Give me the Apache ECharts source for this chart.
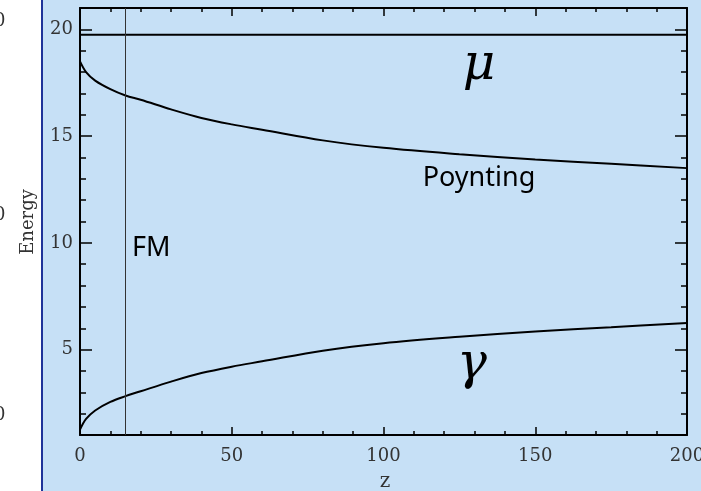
<!DOCTYPE html>
<html>
<head>
<meta charset="utf-8">
<script src="https://cdn.jsdelivr.net/npm/echarts@6/dist/echarts.min.js"></script>
<style>
html,body{margin:0;padding:0;background:#fff;}
#chart{width:701px;height:491px;}
</style>
</head>
<body>
<div id="chart"></div>
<script>
// ---- data ----
const zValues        = [0,    2,    5,    10,   15,   20,   30,   40,   50,   60,   80,   100,  125,  150,  175,  200];
const poyntingValues = [18.5, 18.0, 17.6, 17.2, 16.9, 16.7, 16.25,15.85,15.55,15.3, 14.8, 14.45,14.15,13.9, 13.7, 13.5];
const gammaValues    = [1.25, 1.75, 2.15, 2.55, 2.82, 3.05, 3.5,  3.9,  4.2,  4.45, 4.95, 5.3,  5.6,  5.85, 6.05, 6.25];
const muZ      = [0, 200];
const muValues = [19.75, 19.75];
const fmZ = 15;
const xTickLabels = [0, 50, 100, 150, 200];
const yTickLabels = [5, 10, 15, 20];
const yMinorTicks = [2,3,4,6,7,8,9,11,12,13,14,16,17,18,19];

const pair = (xs, ys) => xs.map((x, i) => [x, ys[i]]);

const chart = echarts.init(document.getElementById('chart'), null, {renderer: 'canvas'});
const labelFont = {fontFamily: 'DejaVu Serif', fontSize: 18, color: '#333'};
const lineStyle = {color: '#000', width: 2};

function xAxisDef(pos, showLabel) {
  return {
    type: 'value', position: pos, min: 0, max: 200, interval: 50,
    axisLine: {show: true, lineStyle: lineStyle},
    axisTick: {show: true, inside: true, length: 8, lineStyle: {color: '#000', width: 1.5}},
    minorTick: {show: true, splitNumber: 5, length: 4, lineStyle: {color: '#000', width: 1.5}},
    axisLabel: Object.assign({show: showLabel, margin: 12, customValues: xTickLabels, hideOverlap: false}, labelFont),
    splitLine: {show: false}, minorSplitLine: {show: false}
  };
}
function yMajor(pos, showLabel) {
  return {
    type: 'value', position: pos, min: 1, max: 21,
    axisLine: {show: true, lineStyle: lineStyle},
    axisTick: {show: true, inside: true, length: 12, customValues: yTickLabels, lineStyle: {color: '#000', width: 1.5}},
    axisLabel: Object.assign({show: showLabel, margin: 7, customValues: yTickLabels}, labelFont),
    splitLine: {show: false}
  };
}
function yMinor(pos) {
  return {
    type: 'value', position: pos, min: 1, max: 21,
    axisLine: {show: false},
    axisTick: {show: true, inside: true, length: 6, customValues: yMinorTicks, lineStyle: {color: '#000', width: 1.5}},
    axisLabel: {show: false},
    splitLine: {show: false}
  };
}

const option = {
  backgroundColor: '#c6e0f6',
  animation: false,
  grid: {left: 80, right: 14, top: 8, bottom: 56, containLabel: false, outerBoundsMode: 'none'},
  xAxis: [xAxisDef('bottom', true), xAxisDef('top', false)],
  yAxis: [yMajor('left', true), yMinor('left'), yMajor('right', false), yMinor('right')],
  series: [
    {
      type: 'line', name: 'mu', data: pair(muZ, muValues), showSymbol: false,
      lineStyle: {color: '#000', width: 2}
    },
    {
      type: 'line', name: 'Poynting', data: pair(zValues, poyntingValues), showSymbol: false,
      smooth: 0.35,
      lineStyle: {color: '#000', width: 2},
      markLine: {
        silent: true, symbol: 'none', label: {show: false},
        lineStyle: {color: '#333', width: 1, type: 'solid'},
        data: [{xAxis: fmZ}]
      }
    },
    {
      type: 'line', name: 'gamma', data: pair(zValues, gammaValues), showSymbol: false,
      smooth: 0.35,
      lineStyle: {color: '#000', width: 2}
    }
  ],
  graphic: [
    {type: 'rect', shape: {x: 0, y: 0, width: 41, height: 491}, style: {fill: '#ffffff'}, z: 0},
    {type: 'rect', shape: {x: 41, y: 0, width: 2, height: 491}, style: {fill: '#1f3399'}, z: 1},
    {type: 'text', x: -6, y: 21, style: {text: '0', font: '18px "DejaVu Serif"', fill: '#333', textVerticalAlign: 'middle'}},
    {type: 'text', x: -6, y: 215, style: {text: '0', font: '18px "DejaVu Serif"', fill: '#333', textVerticalAlign: 'middle'}},
    {type: 'text', x: -6, y: 415, style: {text: '0', font: '18px "DejaVu Serif"', fill: '#333', textVerticalAlign: 'middle'}},
    {type: 'text', x: 28, y: 222, rotation: Math.PI / 2,
      style: {text: 'Energy', font: '18px "DejaVu Serif"', fill: '#333', textAlign: 'center', textVerticalAlign: 'middle'}},
    {type: 'text', x: 385, y: 482,
      style: {text: 'z', font: '20px "DejaVu Serif"', fill: '#333', textAlign: 'center', textVerticalAlign: 'middle'}},
    {type: 'text', x: 479, y: 66,
      style: {text: 'μ', font: 'italic 50px "DejaVu Serif"', fill: '#000', textAlign: 'center', textVerticalAlign: 'middle'}},
    {type: 'text', x: 472, y: 365,
      style: {text: 'γ', font: 'italic 50px "DejaVu Serif"', fill: '#000', textAlign: 'center', textVerticalAlign: 'middle'}},
    {type: 'text', x: 479, y: 178,
      style: {text: 'Poynting', font: '27px "Noto Sans"', fill: '#000', textAlign: 'center', textVerticalAlign: 'middle'}},
    {type: 'text', x: 132, y: 248,
      style: {text: 'FM', font: '27px "Noto Sans"', fill: '#000', textAlign: 'left', textVerticalAlign: 'middle'}}
  ]
};
chart.setOption(option);
</script>
</body>
</html>
